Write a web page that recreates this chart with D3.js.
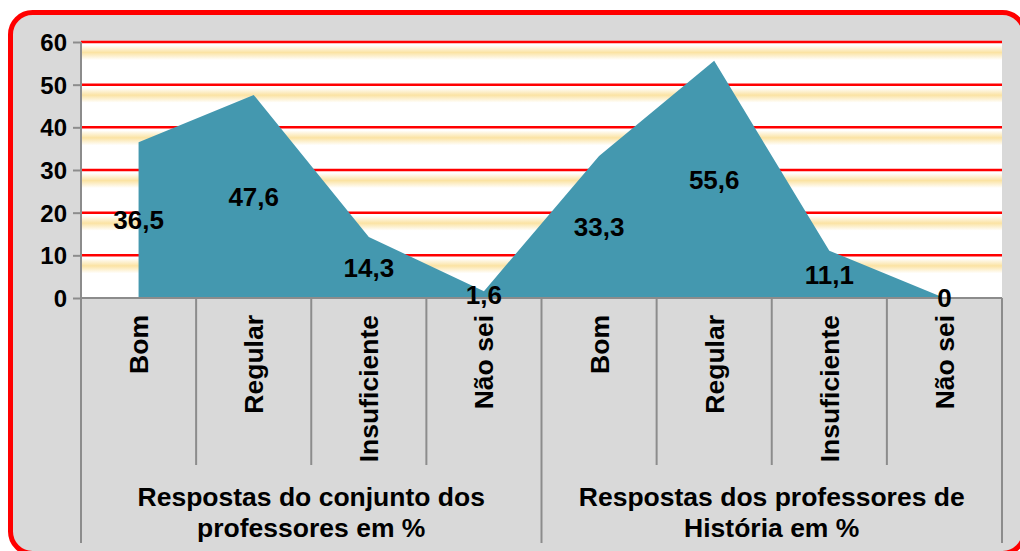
<!DOCTYPE html>
<html>
<head>
<meta charset="utf-8">
<script src="https://cdn.jsdelivr.net/npm/d3@7"></script>
<style>
  body { margin: 0; background: #fff; }
  svg { display: block; }
  text { font-family: "Liberation Sans", Arial, sans-serif; font-weight: bold; fill: #000; }
</style>
</head>
<body>
<div id="chart"></div>
<script>
// chart values
const categories = ["Bom", "Regular", "Insuficiente", "Não sei", "Bom", "Regular", "Insuficiente", "Não sei"];
const values = [36.5, 47.6, 14.3, 1.6, 33.3, 55.6, 11.1, 0];
const valueLabels = ["36,5", "47,6", "14,3", "1,6", "33,3", "55,6", "11,1", "0"];
const groups = [
	["Respostas do conjunto dos", "professores em %"],
	["Respostas dos professores de", "História em %"]
];
const yTicks = [0, 10, 20, 30, 40, 50, 60];

function drawChart() {
	const W = 1020, H = 551;
	const margin = { top: 42, right: 18, bottom: 253, left: 81 },
		width = W - margin.left - margin.right,
		height = H - margin.top - margin.bottom;

	const svg = d3.select("#chart").append("svg")
		.attr("width", W)
		.attr("height", H);

	// gray background with red rounded frame
	svg.append("rect")
		.attr("x", 0).attr("y", 0).attr("width", W).attr("height", H)
		.attr("fill", "#fff");
	svg.append("rect")
		.attr("x", 10.5).attr("y", 12.5)
		.attr("width", 1014).attr("height", 541)
		.attr("rx", 22).attr("ry", 22)
		.attr("fill", "#d9d9d9")
		.attr("stroke", "#ff0000")
		.attr("stroke-width", 5);

	const defs = svg.append("defs");
	const grad = defs.append("linearGradient")
		.attr("id", "band").attr("x1", 0).attr("y1", 0).attr("x2", 0).attr("y2", 1);
	grad.append("stop").attr("offset", "0%").attr("stop-color", "#ffffff");
	grad.append("stop").attr("offset", "50%").attr("stop-color", "#fbe3a3");
	grad.append("stop").attr("offset", "100%").attr("stop-color", "#ffffff");

	const g = svg.append("g")
		.attr("transform", "translate(" + margin.left + "," + margin.top + ")");

	const x = d3.scaleBand().domain(d3.range(categories.length)).range([0, width]);
	const y = d3.scaleLinear().domain([0, 60]).range([height, 0]);

	// plot background
	g.append("rect")
		.attr("width", width).attr("height", height)
		.attr("fill", "#fff");

	// yellow soft bands below each gridline
	g.selectAll(".band")
		.data(yTicks.filter(d => d > 0))
		.enter().append("rect")
		.attr("x", 0)
		.attr("width", width)
		.attr("y", d => y(d) + 3)
		.attr("height", 15)
		.attr("fill", "url(#band)");

	// red gridlines
	g.selectAll(".grid")
		.data(yTicks.filter(d => d > 0))
		.enter().append("line")
		.attr("x1", 0).attr("x2", width)
		.attr("y1", d => y(d)).attr("y2", d => y(d))
		.attr("stroke", "#ff0000")
		.attr("stroke-width", 2.5);

	// area
	const area = d3.area()
		.x((d, i) => x(i) + x.bandwidth() / 2)
		.y0(y(0))
		.y1(d => y(d));

	g.append("path")
		.datum(values)
		.attr("d", area)
		.attr("fill", "#4498af");

	// y axis
	const yAxis = g.append("g")
		.call(d3.axisLeft(y).tickValues(yTicks).tickSize(8).tickPadding(6));
	yAxis.select(".domain").attr("stroke", "#8c8c8c").attr("stroke-width", 2)
		.attr("d", "M0," + y(0) + "V" + y(60));
	yAxis.selectAll(".tick line").attr("stroke", "#8c8c8c").attr("stroke-width", 2);
	yAxis.selectAll(".tick text")
		.style("font-size", "24px")
		.style("font-family", "Liberation Sans, Arial, sans-serif")
		.style("font-weight", "bold")
		.attr("fill", "#000")
		.attr("dy", "0.35em");

	// x axis baseline
	g.append("line")
		.attr("x1", 0).attr("x2", width)
		.attr("y1", height).attr("y2", height)
		.attr("stroke", "#8c8c8c").attr("stroke-width", 2);

	// category dividers
	const innerBottom = 465 - margin.top;
	const outerBottom = 543 - margin.top;
	d3.range(categories.length + 1).forEach(i => {
		const xx = i < categories.length ? x(i) : width;
		const outer = (i % 4 === 0);
		g.append("line")
			.attr("x1", xx).attr("x2", xx)
			.attr("y1", height).attr("y2", outer ? outerBottom : innerBottom)
			.attr("stroke", "#8c8c8c").attr("stroke-width", 2);
	});

	// category labels (rotated)
	g.selectAll(".cat")
		.data(categories)
		.enter().append("text")
		.attr("transform", (d, i) => "translate(" + (x(i) + x.bandwidth() / 2) + "," + (height + 17) + ") rotate(-90)")
		.attr("text-anchor", "end")
		.attr("dy", "0.36em")
		.style("font-size", "26.5px")
		.text(d => d);

	// group labels
	groups.forEach((lines, gi) => {
		const cx = x(gi * 4) + x.bandwidth() * 2;
		lines.forEach((line, li) => {
			g.append("text")
				.attr("x", cx)
				.attr("y", 497 - margin.top + li * 31)
				.attr("text-anchor", "middle")
				.attr("dy", "0.35em")
				.style("font-size", "26.5px")
				.text(line);
		});
	});

	// data labels, centred at half the value
	g.selectAll(".val")
		.data(values)
		.enter().append("text")
		.attr("x", (d, i) => x(i) + x.bandwidth() / 2)
		.attr("y", d => y(d / 2))
		.attr("text-anchor", "middle")
		.attr("dy", "0.36em")
		.style("font-size", "26px")
		.text((d, i) => valueLabels[i]);
}

drawChart();
</script>
</body>
</html>
